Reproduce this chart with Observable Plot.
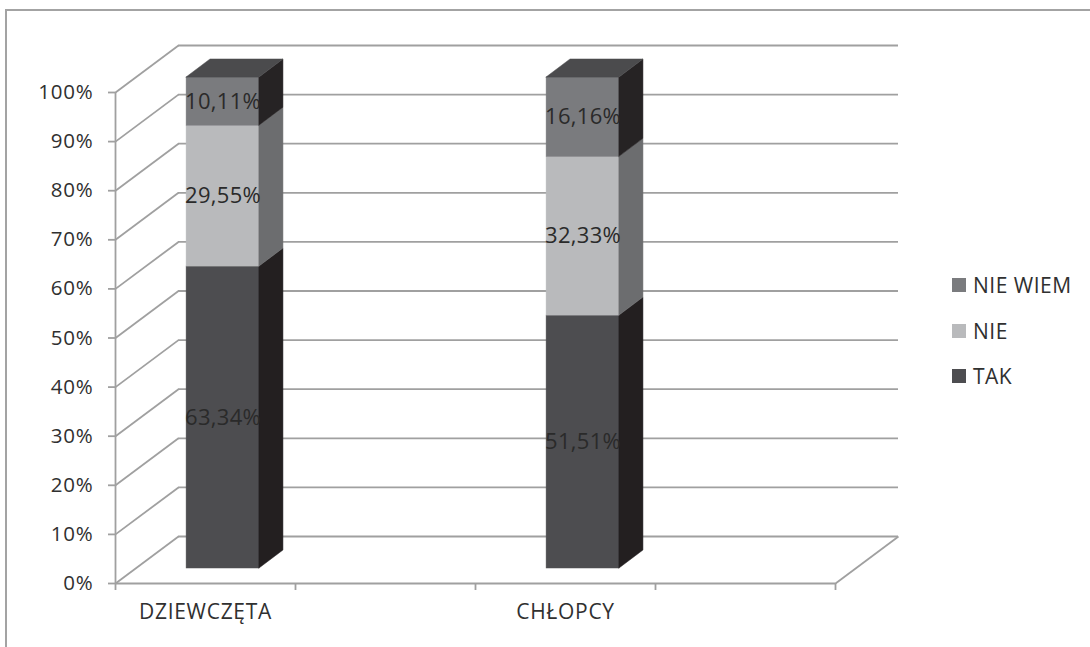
<!DOCTYPE html>
<html>
<head>
<meta charset="utf-8">
<script src="https://cdn.jsdelivr.net/npm/d3@7"></script>
<script src="https://cdn.jsdelivr.net/npm/@observablehq/plot@0.6"></script>
<style>
  html, body { margin: 0; padding: 0; background: #fff; overflow: hidden; }
  #wrap { position: relative; width: 1090px; height: 647px; overflow: hidden; font-family: "Open Sans", sans-serif; }
  #border { position: absolute; left: 5px; top: 9px; width: 1200px; height: 800px; border: 2px solid #a3a3a3; box-sizing: border-box; }
  #chart { position: absolute; left: 0; top: 0; }
  #legend { position: absolute; left: 952px; top: 0; }
  .li { position: absolute; left: 0; display: flex; align-items: center; white-space: nowrap; font-size: 21px; color: #303030; letter-spacing: 0.5px; }
  .sw { width: 14px; height: 14px; margin-right: 7px; flex: none; }
  svg text { font-family: "Open Sans", sans-serif; }
  svg g[aria-label="y-axis tick label"] { font-size: 20.5px; letter-spacing: 0.8px; }
  svg g[aria-label="x-axis tick label"] { font-size: 21px; letter-spacing: 0.7px; }
  svg g.vlabels { font-size: 22px; letter-spacing: 0.3px; }
</style>
</head>
<body>
<div id="wrap">
  <div id="border"></div>
  <div id="chart"></div>
  <div id="legend"></div>
</div>
<script>
// ---- data ----
const axisCategories = ["DZIEWCZĘTA", "", "CHŁOPCY", ""];
const categories = ["DZIEWCZĘTA", "CHŁOPCY"];
const seriesNames = ["TAK", "NIE", "NIE WIEM"];
const tak = [63.34, 51.51];
const nie = [29.55, 32.33];
const nieWiem = [10.11, 16.16];
const yTicks = [0, 10, 20, 30, 40, 50, 60, 70, 80, 90, 100];
const legendOrder = ["NIE WIEM", "NIE", "TAK"];

// ---- styles ----
const frontColor = {"TAK": "#4d4d50", "NIE": "#b9babc", "NIE WIEM": "#7a7b7e"};
const sideColor = {"TAK": "#231f20", "NIE": "#6c6d6f", "NIE WIEM": "#262324"};
const topColor = "#4b4b4d";
const gridColor = "#a0a0a0";
const textColor = "#303030";
const BAR_L = 0.395, BAR_R = 0.800;   // bar front face inside a category slot
const DEPTH_X = 0.133, DEPTH_Y = 3.67; // bar depth (data units)
const BACK_X = 0.35, BACK_Y = 9.57;    // back wall offset (data units)
const LIFT = -15;                      // bar floor lift (px)

// ---- derived stacked (100% normalized) segments ----
const segs = [];
categories.forEach((c, i) => {
  const vals = [tak[i], nie[i], nieWiem[i]];
  const total = d3.sum(vals);
  const slot = axisCategories.indexOf(c);
  let acc = 0;
  vals.forEach((v, k) => {
    const lo = acc / total * 100;
    acc += v;
    const hi = acc / total * 100;
    segs.push({cat: c, slot, series: seriesNames[k], value: v, lo, hi, key: c + "|" + seriesNames[k]});
  });
});

const marks = [];
// back wall gridlines
marks.push(Plot.ruleY(yTicks, {y: d => d + BACK_Y, x1: BACK_X, x2: axisCategories.length + BACK_X, stroke: gridColor, strokeWidth: 1.8}));
// side wall diagonals
marks.push(Plot.link(yTicks, {x1: 0, y1: d => d, x2: BACK_X, y2: d => d + BACK_Y, stroke: gridColor, strokeWidth: 1.8}));
// floor front edge and right diagonal
marks.push(Plot.ruleY([0], {x1: 0, x2: axisCategories.length, stroke: gridColor, strokeWidth: 1.8}));
marks.push(Plot.link([0], {x1: axisCategories.length, y1: 0, x2: axisCategories.length + BACK_X, y2: BACK_Y, stroke: gridColor, strokeWidth: 1.8}));
// y axis line
marks.push(Plot.ruleX([0], {y1: 0, y2: 100, stroke: gridColor, strokeWidth: 1.8}));

// bars
for (const s of seriesNames) {
  const ss = segs.filter(d => d.series === s);
  marks.push(Plot.rect(ss, {
    x1: d => d.slot + BAR_L, x2: d => d.slot + BAR_R, y1: "lo", y2: "hi",
    fill: frontColor[s], stroke: frontColor[s], strokeWidth: 0.5, dy: LIFT
  }));
  const side = ss.flatMap(d => [
    {key: d.key, x: d.slot + BAR_R, lo: d.lo, hi: d.hi},
    {key: d.key, x: d.slot + BAR_R + DEPTH_X, lo: d.lo + DEPTH_Y, hi: d.hi + DEPTH_Y}
  ]);
  marks.push(Plot.areaY(side, {x: "x", y1: "lo", y2: "hi", z: "key", fill: sideColor[s], stroke: sideColor[s], strokeWidth: 0.5, dy: LIFT}));
}
// top faces
const topSegs = segs.filter(d => d.series === seriesNames[seriesNames.length - 1]);
const tops = topSegs.flatMap(d => [
  {key: d.key, y: d.hi, x1: d.slot + BAR_L, x2: d.slot + BAR_R},
  {key: d.key, y: d.hi + DEPTH_Y, x1: d.slot + BAR_L + DEPTH_X, x2: d.slot + BAR_R + DEPTH_X}
]);
marks.push(Plot.areaX(tops, {y: "y", x1: "x1", x2: "x2", z: "key", fill: topColor, stroke: topColor, strokeWidth: 0.5, dy: LIFT}));

// value labels
marks.push(Plot.text(segs, {
  x: d => d.slot + (BAR_L + BAR_R) / 2, y: d => (d.lo + d.hi) / 2,
  text: d => d.value.toFixed(2).replace(".", ",") + "%",
  fill: "#2a2a2a", fontSize: 22, dy: LIFT, className: "vlabels"
}));

// axes
marks.push(Plot.axisY(yTicks, {tickSize: 7, tickPadding: 15, tickFormat: d => d + "%", fontSize: 20, stroke: gridColor, strokeWidth: 1.8, fill: textColor}));
marks.push(Plot.axisX(d3.range(axisCategories.length + 1), {tickSize: 7, tickFormat: () => "", stroke: gridColor, strokeWidth: 1.8}));
marks.push(Plot.axisX(d3.range(axisCategories.length).map(i => i + 0.5), {tickSize: 0, tickPadding: 21, tickFormat: d => axisCategories[Math.floor(d)], fontSize: 21, fill: textColor}));

const chart = Plot.plot({
  width: 1090, height: 647,
  marginLeft: 115, marginRight: 255, marginTop: 92, marginBottom: 64,
  x: {type: "linear", domain: [0, axisCategories.length], axis: null},
  y: {type: "linear", domain: [0, 100], axis: null},
  style: {background: "transparent", fontFamily: "Open Sans, sans-serif", color: textColor, overflow: "visible"},
  marks
});
document.getElementById("chart").appendChild(chart);

// legend
const legendY = {"NIE WIEM": 285, "NIE": 331, "TAK": 376};
const lg = document.getElementById("legend");
legendOrder.forEach(s => {
  const item = document.createElement("div");
  item.className = "li";
  item.style.top = (legendY[s] - 14) + "px";
  item.style.height = "28px";
  const sw = document.createElement("div");
  sw.className = "sw";
  sw.style.background = frontColor[s];
  const tx = document.createElement("span");
  tx.textContent = s;
  item.appendChild(sw); item.appendChild(tx);
  lg.appendChild(item);
});
</script>
</body>
</html>
